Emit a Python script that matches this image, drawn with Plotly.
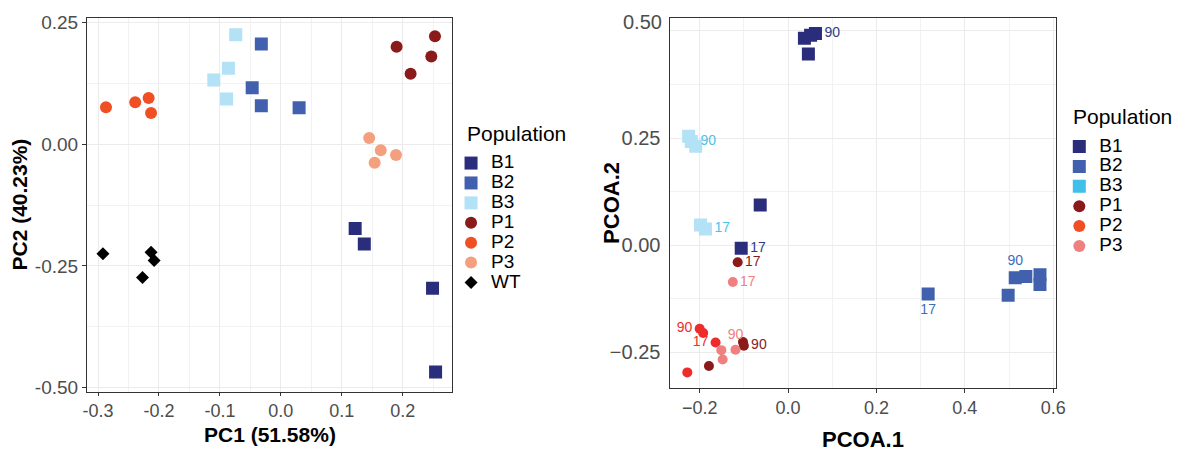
import plotly.graph_objects as go

# ---------------- data: left panel (PCA) ----------------
pca_groups = ["B1", "B2", "B3", "P1", "P2", "P3", "WT"]
pca_x = {
    "B1": [0.122, 0.137, 0.249, 0.254],
    "B2": [-0.032, -0.047, -0.032, 0.030],
    "B3": [-0.074, -0.110, -0.086, -0.089],
    "P1": [0.190, 0.253, 0.247, 0.213],
    "P2": [-0.287, -0.239, -0.217, -0.213],
    "P3": [0.145, 0.164, 0.154, 0.189],
    "WT": [-0.292, -0.213, -0.208, -0.227],
}
pca_y = {
    "B1": [-0.173, -0.205, -0.296, -0.468],
    "B2": [0.206, 0.116, 0.079, 0.075],
    "B3": [0.225, 0.132, 0.156, 0.093],
    "P1": [0.200, 0.222, 0.180, 0.145],
    "P2": [0.076, 0.086, 0.095, 0.064],
    "P3": [0.013, -0.0125, -0.038, -0.022],
    "WT": [-0.225, -0.222, -0.239, -0.274],
}
pca_xticks = [-0.3, -0.2, -0.1, 0.0, 0.1, 0.2]
pca_xticklabels = ["-0.3", "-0.2", "-0.1", "0.0", "0.1", "0.2"]
pca_yticks = [-0.5, -0.25, 0.0, 0.25]
pca_yticklabels = ["-0.50", "-0.25", "0.00", "0.25"]

# ---------------- data: right panel (PCoA) ----------------
pcoa_groups = ["B1", "B2", "B3", "P1", "P2", "P3"]
pcoa_x = {
    "B1": [0.037, 0.051, 0.062, 0.046, -0.063, -0.106],
    "B2": [0.317, 0.498, 0.514, 0.538, 0.570, 0.570],
    "B3": [-0.225, -0.219, -0.209, -0.198, -0.187],
    "P1": [-0.114, -0.102, -0.100, -0.179],
    "P2": [-0.200, -0.192, -0.164, -0.228],
    "P3": [-0.125, -0.151, -0.148, -0.119],
}
pcoa_y = {
    "B1": [0.483, 0.490, 0.494, 0.446, 0.094, -0.0075],
    "B2": [-0.114, -0.117, -0.076, -0.073, -0.069, -0.092],
    "B3": [0.254, 0.242, 0.231, 0.047, 0.038],
    "P1": [-0.040, -0.226, -0.235, -0.282],
    "P2": [-0.195, -0.205, -0.227, -0.297],
    "P3": [-0.086, -0.245, -0.267, -0.244],
}
pcoa_labels = {
    "B1": ["", "", "90", "", "", "17"],
    "B2": ["17", "", "90", "", "", ""],
    "B3": ["", "90", "", "", "17"],
    "P1": ["17", "", "90", ""],
    "P2": ["90", "", "17", ""],
    "P3": ["17", "", "", "90"],
}
pcoa_label_pos = {
    "B1": ["middle right"] * 6,
    "B2": ["bottom center", "middle right", "top center", "middle right", "middle right", "middle right"],
    "B3": ["middle right"] * 5,
    "P1": ["middle right"] * 4,
    "P2": ["middle left", "middle left", "middle left", "middle left"],
    "P3": ["middle right", "middle right", "middle right", "top center"],
}
pcoa_xticks = [-0.2, 0.0, 0.2, 0.4, 0.6]
pcoa_xticklabels = ["\u22120.2", "0.0", "0.2", "0.4", "0.6"]
pcoa_yticks = [-0.25, 0.0, 0.25, 0.5]
pcoa_yticklabels = ["\u22120.25", "0.00", "0.25", ""]

# ---------------- styles ----------------
col_pca = {"B1": "#2A2D7C", "B2": "#4161AE", "B3": "#B3E1F6", "P1": "#8B1A1A",
           "P2": "#F04E23", "P3": "#F4A07E", "WT": "#000000"}
sym_pca = {"B1": "square", "B2": "square", "B3": "square", "P1": "circle",
           "P2": "circle", "P3": "circle", "WT": "diamond"}
size_pca = {"square": 13, "circle": 12, "diamond": 10}

col_pcoa_mark = {"B1": "#2A2D7C", "B2": "#4161AE", "B3": "#B3E1F6", "P1": "#8B1A1A",
                 "P2": "#EE2C2C", "P3": "#F08080"}
col_pcoa_text = {"B1": "#2E3A87", "B2": "#3E6DB8", "B3": "#4FC0EA", "P1": "#8B1A1A",
                 "P2": "#EE2C2C", "P3": "#F08080"}
col_pcoa_leg = {"B1": "#2A2D7C", "B2": "#4161AE", "B3": "#3FBFEA", "P1": "#8B1A1A",
                "P2": "#F04E23", "P3": "#F08080"}
sym_pcoa = {"B1": "square", "B2": "square", "B3": "square", "P1": "circle",
            "P2": "circle", "P3": "circle"}
size_pcoa = {"square": 13, "circle": 10}

FONT = "Liberation Sans, Arial, Helvetica, sans-serif"
W, H = 1185, 454

fig = go.Figure()

def leg_name(g):
    return '<span style="font-size:19px">' + g + '</span>'

for g in pca_groups:
    s = sym_pca[g]
    fig.add_trace(go.Scatter(
        x=pca_x[g], y=pca_y[g], mode="markers", name=leg_name(g),
        marker=dict(symbol=s, size=size_pca[s], color=col_pca[g], line=dict(width=0)),
        xaxis="x", yaxis="y", legend="legend", showlegend=True))

for g in pcoa_groups:
    s = sym_pcoa[g]
    fig.add_trace(go.Scatter(
        x=pcoa_x[g], y=pcoa_y[g], mode="markers+text", name=g,
        text=pcoa_labels[g], textposition=pcoa_label_pos[g],
        textfont=dict(family=FONT, size=14, color=col_pcoa_text[g]),
        marker=dict(symbol=s, size=size_pcoa[s], color=col_pcoa_mark[g], line=dict(width=0)),
        xaxis="x2", yaxis="y2", showlegend=False))
    # legend key (legend colours differ from marker colours in the original)
    fig.add_trace(go.Scatter(
        x=[None], y=[None], mode="markers", name=leg_name(g),
        marker=dict(symbol=s, size=13 if s == "square" else 12, color=col_pcoa_leg[g], line=dict(width=0)),
        xaxis="x2", yaxis="y2", legend="legend2", showlegend=True))

grid_major = "#EBEBEB"
grid_minor = "#F2F2F2"
axis_common = dict(showline=True, mirror=True, linecolor="#333333", linewidth=1.3,
                   showgrid=True, gridcolor=grid_major, gridwidth=1.3, zeroline=False,
                   tickmode="array", tickcolor="#333333", ticklen=4, tickwidth=1.2)

def px_to_x(p):
    return p / W

def px_to_y(p):
    return (H - p) / H

x1 = dict(axis_common)
x1["ticklen"] = 3

fig.update_layout(
    width=W, height=H, autosize=False,
    margin=dict(l=0, r=0, t=0, b=0),
    paper_bgcolor="white", plot_bgcolor="white",
    font=dict(family=FONT, color="#000000"),
    xaxis=dict(**x1, domain=[px_to_x(84), px_to_x(453)], range=[-0.318, 0.281],
               tickvals=pca_xticks, ticktext=pca_xticklabels, ticks="outside",
               tickfont=dict(size=18, color="#4D4D4D"),
               minor=dict(tickmode="linear", tick0=0, dtick=0.05, showgrid=True,
                          gridcolor=grid_minor, gridwidth=0.8, ticks=""),
               anchor="y"),
    yaxis=dict(**axis_common, domain=[px_to_y(397), px_to_y(13)], range=[-0.508, 0.26],
               tickvals=pca_yticks, ticktext=pca_yticklabels, ticks="outside",
               tickfont=dict(size=19, color="#4D4D4D"),
               minor=dict(tickmode="linear", tick0=0, dtick=0.125, showgrid=True,
                          gridcolor=grid_minor, gridwidth=0.8, ticks=""),
               title=dict(text="<b>PC2 (40.23%)</b>", font=dict(size=21, color="#000000"), standoff=1),
               anchor="x"),
    xaxis2=dict(**axis_common, domain=[px_to_x(673), px_to_x(1064)], range=[-0.268, 0.607],
                tickvals=pcoa_xticks, ticktext=pcoa_xticklabels, ticks="outside",
                tickfont=dict(size=18, color="#4D4D4D"),
                minor=dict(tickmode="linear", tick0=0, dtick=0.1, showgrid=True,
                           gridcolor=grid_minor, gridwidth=0.8, ticks=""),
                title=dict(text="<b>PCOA.1</b>", font=dict(size=22, color="#000000"), standoff=14),
                anchor="y2"),
    yaxis2=dict(**axis_common, domain=[px_to_y(393), px_to_y(13)], range=[-0.3325, 0.531],
                tickvals=pcoa_yticks, ticktext=pcoa_yticklabels, ticks="",
                ticklabelstandoff=4,
                tickfont=dict(size=20, color="#4D4D4D"),
                minor=dict(tickmode="linear", tick0=0, dtick=0.125, showgrid=True,
                           gridcolor=grid_minor, gridwidth=0.8, ticks=""),
                anchor="x2"),
    legend=dict(x=px_to_x(452), y=px_to_y(147), xanchor="left", yanchor="top",
                font=dict(family=FONT, size=13, color="#000000"),
                bgcolor="rgba(0,0,0,0)", borderwidth=0, tracegroupgap=0, itemsizing="trace"),
    legend2=dict(x=px_to_x(1067), y=px_to_y(130), xanchor="left", yanchor="top",
                 font=dict(family=FONT, size=13, color="#000000"),
                 bgcolor="rgba(0,0,0,0)", borderwidth=0, tracegroupgap=0, itemsizing="trace"),
    annotations=[
        dict(text="Population", x=px_to_x(466), y=px_to_y(131.5), xref="paper", yref="paper",
             xanchor="left", yanchor="middle", showarrow=False,
             font=dict(family=FONT, size=21, color="#000000")),
        dict(text="Population", x=px_to_x(1079), y=px_to_y(115), xref="paper", yref="paper",
             xanchor="left", yanchor="middle", showarrow=False,
             font=dict(family=FONT, size=21, color="#000000")),
        dict(text="0.50", x=px_to_x(667), y=px_to_y(17), xref="paper", yref="paper",
             xanchor="right", yanchor="middle", showarrow=False,
             font=dict(family=FONT, size=20, color="#4D4D4D")),
        dict(text="<b>PC1 (51.58%)</b>", x=0.5, y=px_to_y(441), xref="x domain", yref="paper",
             xanchor="center", yanchor="middle", showarrow=False,
             font=dict(family=FONT, size=21, color="#000000")),
        dict(text="<b>PCOA.2</b>", x=px_to_x(614), y=0.5, xref="paper", yref="y2 domain",
             xanchor="center", yanchor="middle", textangle=-90, showarrow=False,
             font=dict(family=FONT, size=22, color="#000000")),
    ],
)

fig.write_html("out.html")
